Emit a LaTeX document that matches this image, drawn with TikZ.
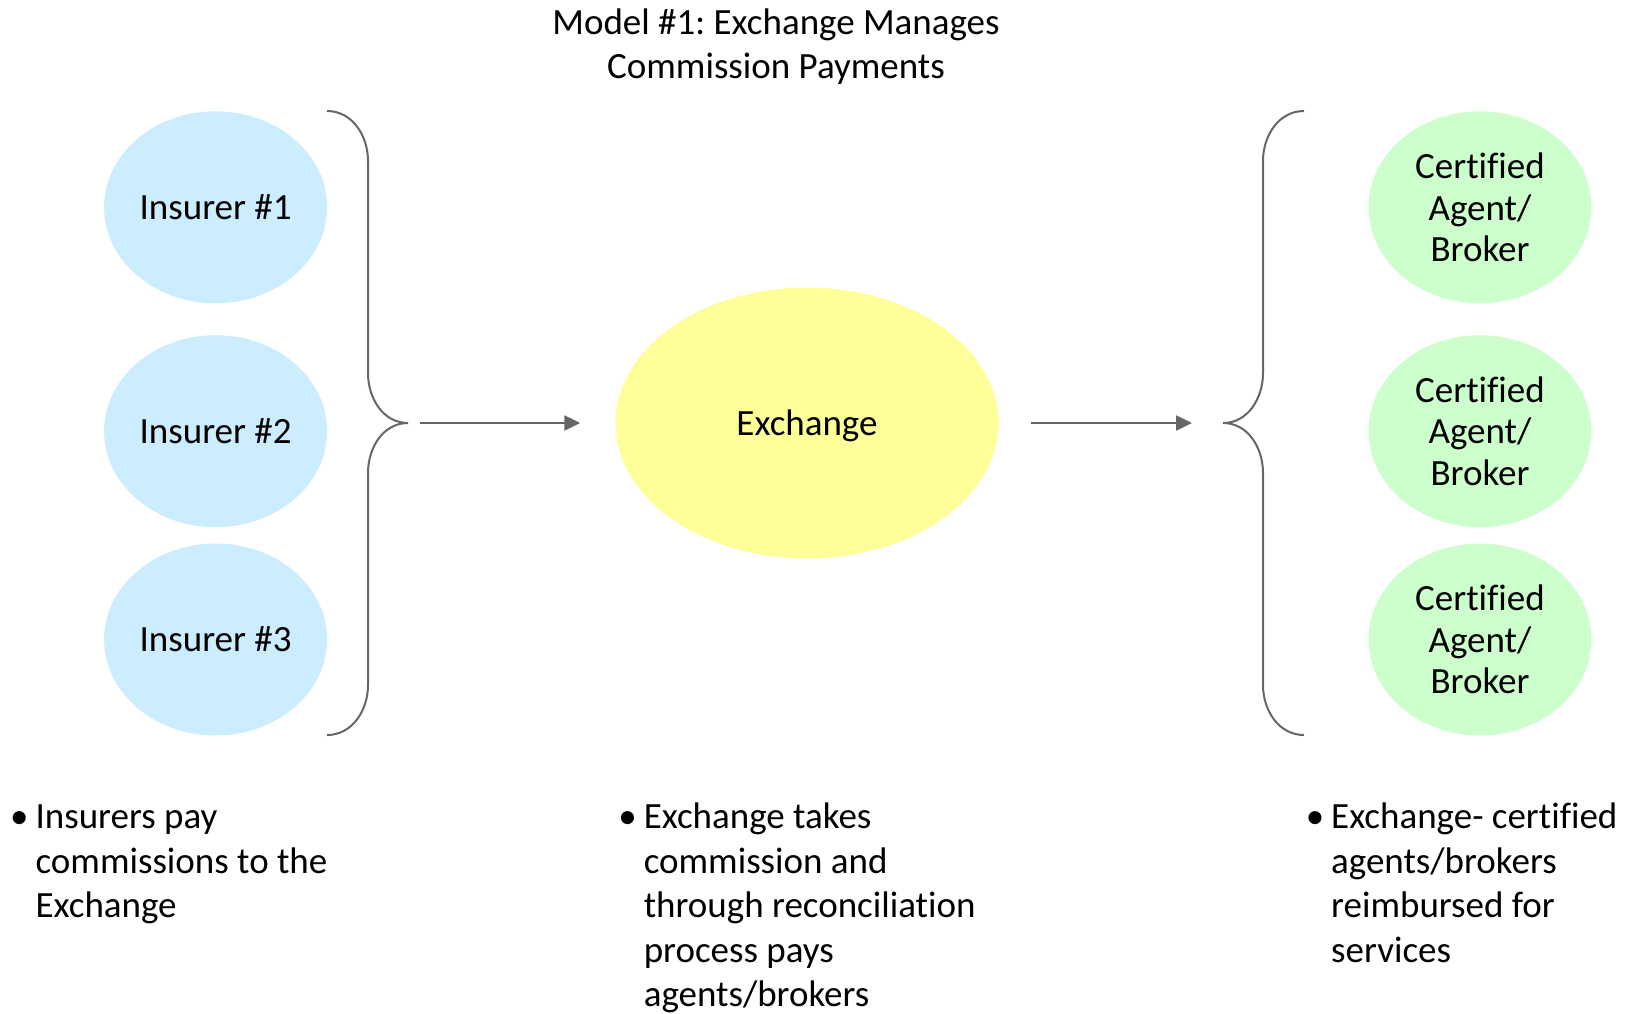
\documentclass[tikz,border=0pt]{standalone}
\usepackage{fontspec}
\setmainfont[Ligatures=NoCommon]{Carlito}
\usepackage{xcolor}
\usetikzlibrary{shapes.geometric,arrows.meta}

\definecolor{insblue}{HTML}{CCECFF}
\definecolor{exyellow}{HTML}{FFFF99}
\definecolor{agtgreen}{HTML}{CCFFCC}
\definecolor{linegray}{HTML}{666666}

\frenchspacing
\begin{document}
\begin{tikzpicture}[
  x=1pt, y=-1pt,
  every node/.style={font=\fontsize{37}{41.5}\selectfont, inner sep=0pt},
  blob/.style={ellipse, align=center, minimum width=223, minimum height=192},
  insurer/.style={blob, fill=insblue},
  agent/.style={blob, fill=agtgreen},
  exchange/.style={ellipse, fill=exyellow, text depth=0pt, minimum width=383, minimum height=271},
  note/.style={anchor=north west, align=left, font=\fontsize{37}{44.5}\selectfont},
  brace/.style={draw=linegray, line width=2pt},
  flow/.style={draw=linegray, line width=2.3pt, -{Triangle[length=16pt, width=15pt]}}
]
\useasboundingbox (0,0) rectangle (1633,1013);

% title
\node[align=center, font=\fontsize{37}{44}\selectfont] (title) at (776,47)
  {Model \#1: Exchange Manages\\Commission Payments};

% insurers on the left
\node[insurer] (ins1) at (215.6,207.3) {Insurer \#1};
\node[insurer] (ins2) at (215.6,431.2) {Insurer \#2};
\node[insurer] (ins3) at (215.6,639.5) {Insurer \#3};

% the exchange
\node[exchange] (exch) at (807,423) {Exchange};

% agents on the right
\node[agent] (agt1) at (1480,207.3) {Certified\\Agent/\\Broker};
\node[agent] (agt2) at (1480,431.2) {Certified\\Agent/\\Broker};
\node[agent] (agt3) at (1480,639.5) {Certified\\Agent/\\Broker};

% braces
\coordinate (ltip) at (408,423);
\coordinate (rtip) at (1223,423);
\draw[brace] (327,111) to[out=0, in=90] (368,161) -- (368,373)
  to[out=-90, in=180] (ltip) to[out=180, in=90] (368,473) -- (368,685)
  to[out=-90, in=0] (327,735);
\draw[brace] (1304,111) to[out=180, in=90] (1263,161) -- (1263,373)
  to[out=-90, in=0] (rtip) to[out=0, in=90] (1263,473) -- (1263,685)
  to[out=-90, in=180] (1304,735);

% flows
\draw[flow] ([xshift=12]ltip) -- ([xshift=-35]exch.west);
\draw[flow] ([xshift=32]exch.east) -- ([xshift=-31]rtip);

% notes underneath
\node[note] (insnote) at (35.4,805)
  {\llap{\textbullet\hspace{7pt}}Insurers pay\\commissions to the\\Exchange};
\node[note] (exnote) at (643.6,803)
  {\llap{\textbullet\hspace{7pt}}Exchange takes\\commission and\\through reconciliation\\process pays\\agents/brokers};
\node[note] (agtnote) at (1331,803)
  {\llap{\textbullet\hspace{7pt}}Exchange- certified\\agents/brokers\\reimbursed for\\services};
\end{tikzpicture}
\end{document}
